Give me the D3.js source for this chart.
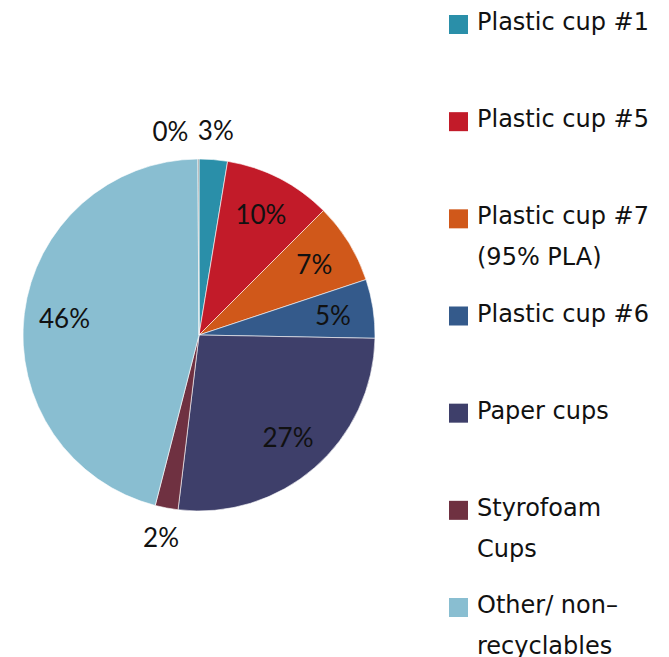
<!DOCTYPE html>
<html>
<head>
<meta charset="utf-8">
<script src="https://cdn.jsdelivr.net/npm/d3@7"></script>
<style>
  html, body { margin: 0; padding: 0; background: #fff; }
  svg { display: block; }
</style>
</head>
<body>
<svg id="chart" width="669" height="657"></svg>
<script>
const categories = ["Plastic cup #1", "Plastic cup #5", "Plastic cup #7 (95% PLA)", "Plastic cup #6", "Paper cups", "Styrofoam Cups", "Other/ non-recyclables", "Other"];
const legendLines = [["Plastic cup #1"], ["Plastic cup #5"], ["Plastic cup #7", "(95% PLA)"], ["Plastic cup #6"], ["Paper cups"], ["Styrofoam", "Cups"], ["Other/ non\u2013", "recyclables"]];
const values = [2.6, 9.9, 7.4, 5.4, 26.6, 2.1, 45.9, 0.1];
const colors = ["#2a8fa9", "#c21b29", "#d0581a", "#345a8b", "#3e3f6a", "#6f3141", "#89bed1", "#7f7f7f"];

const svg = d3.select("#chart");
const cx = 199, cy = 335, R = 176;
const total = d3.sum(values);
const data = categories.map((c, i) => ({ name: c, value: values[i], color: colors[i] }));

const pie = d3.pie().value(d => d.value).sort(null);
const arcs = pie(data);
const arc = d3.arc().innerRadius(0).outerRadius(R);
const labelArc = d3.arc().innerRadius(R * 0.77).outerRadius(R * 0.77);
const outArc = d3.arc().innerRadius(R * 1.17).outerRadius(R * 1.17);
const pct = d => Math.round(d.data.value / total * 100) + "%";

const g = svg.append("g").attr("transform", `translate(${cx},${cy})`);
g.selectAll("path.slice").data(arcs).enter().append("path")
  .attr("class", "slice")
  .attr("d", arc)
  .attr("fill", d => d.data.color)
  .attr("stroke", "#ffffff")
  .attr("stroke-width", 0.6);

g.selectAll("text.lbl").data(arcs).enter().append("text")
  .attr("class", "lbl")
  .each(function(d) {
    const share = d.data.value / total;
    const t = d3.select(this);
    if (share >= 0.04) {
      const [x, y] = labelArc.centroid(d);
      t.attr("x", x).attr("y", y).attr("text-anchor", "middle");
    } else if (share < 0.01) {
      const [x, y] = outArc.centroid(d);
      t.attr("x", x - 10).attr("y", y + 2).attr("text-anchor", "end");
    } else {
      const [x, y] = outArc.centroid(d);
      t.attr("x", x).attr("y", y).attr("text-anchor", "middle");
    }
  })
  .attr("dominant-baseline", "central")
  .attr("font-family", "Lato, 'Open Sans', sans-serif")
  .attr("font-size", 26)
  .attr("fill", "#111")
  .text(pct);

// Legend
const legendY = d3.scalePoint().domain(d3.range(legendLines.length)).range([15, 598]);
const leg = svg.append("g");
legendLines.forEach((lines, i) => {
  const y0 = legendY(i);
  leg.append("rect").attr("x", 449).attr("y", y0).attr("width", 19).attr("height", 19).attr("fill", colors[i]);
  const t = leg.append("text")
    .attr("font-family", "'DejaVu Sans', sans-serif")
    .attr("font-size", 24)
    .attr("fill", "#111");
  lines.forEach((ln, j) => {
    t.append("tspan").attr("x", 477).attr("y", y0 + 15 + j * 41).text(ln);
  });
});
</script>
</body>
</html>
